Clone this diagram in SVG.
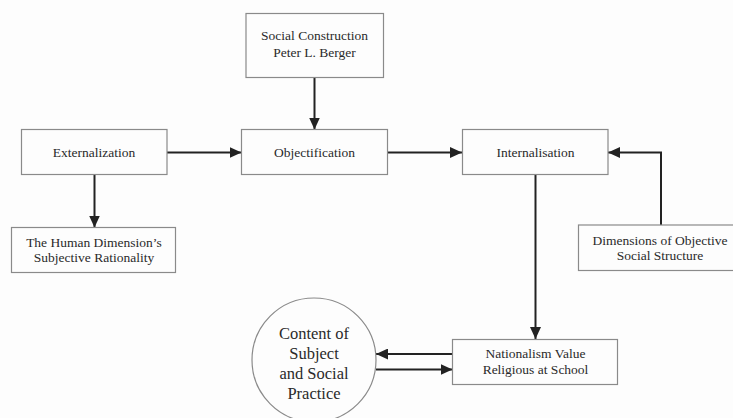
<svg xmlns="http://www.w3.org/2000/svg" width="733" height="418" viewBox="0 0 733 418">
<style>
.box{fill:#fdfdfd;stroke:#8a8a8a;stroke-width:1.2}
.c{fill:none;stroke:#222;stroke-width:2;marker-end:url(#ah)}
</style>
<defs>
<marker id="ah" markerUnits="userSpaceOnUse" markerWidth="12" markerHeight="11" refX="12" refY="5.5" orient="auto">
<path d="M0,0 L12,5.5 L0,11 z" fill="#222"/>
</marker>
</defs>
<rect width="733" height="418" fill="#fdfdfd"/>
<g id="connectors">
<line class="c" x1="314.5" y1="77" x2="314.5" y2="129.5"/>
<line class="c" x1="167" y1="152.5" x2="241.5" y2="152.5"/>
<line class="c" x1="387.5" y1="152.5" x2="462" y2="152.5"/>
<line class="c" x1="94.5" y1="174.5" x2="94.5" y2="227.5"/>
<line class="c" x1="535.5" y1="174.5" x2="535.5" y2="339"/>
<polyline class="c" points="661,225 661,152.5 608,152.5"/>
<line class="c" x1="452.5" y1="354" x2="376" y2="354"/>
<line class="c" x1="376" y1="369.5" x2="452.5" y2="369.5"/>
</g>
<g font-family="Liberation Serif, Times New Roman, serif" font-size="13.5" fill="#2a2a2a" text-anchor="middle">
<g id="social-construction">
<rect class="box" x="246" y="13.5" width="137.5" height="64"/>
<text x="314.5" y="39.5" font-family="Liberation Serif, serif">Social Construction</text>
<text x="314.5" y="56.5" font-family="Liberation Serif, serif">Peter L. Berger</text>
</g>
<g id="externalization">
<rect class="box" x="21.5" y="129.5" width="145.5" height="45"/>
<text x="94" y="157" font-family="Liberation Serif, serif">Externalization</text>
</g>
<g id="objectification">
<rect class="box" x="241.5" y="129.5" width="146" height="45"/>
<text x="314.5" y="157" font-family="Liberation Serif, serif">Objectification</text>
</g>
<g id="internalisation">
<rect class="box" x="462.5" y="129.5" width="145.5" height="45"/>
<text x="535.5" y="157" font-family="Liberation Serif, serif">Internalisation</text>
</g>
<g id="human-dimension">
<rect class="box" x="11.5" y="227.5" width="164" height="45"/>
<text x="94" y="247" font-family="Liberation Serif, serif">The Human Dimension’s</text>
<text x="94" y="262" font-family="Liberation Serif, serif">Subjective Rationality</text>
</g>
<g id="dimensions-objective">
<rect class="box" x="578.5" y="225" width="160" height="45.5"/>
<text x="660" y="244.5" font-family="Liberation Serif, serif">Dimensions of Objective</text>
<text x="660" y="260" font-family="Liberation Serif, serif">Social Structure</text>
</g>
<g id="nationalism">
<rect class="box" x="452.5" y="339.5" width="165" height="45"/>
<text x="535.5" y="357.5" font-family="Liberation Serif, serif">Nationalism Value</text>
<text x="535.5" y="373.5" font-family="Liberation Serif, serif">Religious at School</text>
</g>
<g id="content-subject" font-size="16.5">
<circle cx="314" cy="360" r="62" fill="#fdfdfd" stroke="#8a8a8a" stroke-width="1.2"/>
<text x="314" y="338.5" font-family="Liberation Serif, serif">Content of</text>
<text x="314" y="358.5" font-family="Liberation Serif, serif">Subject</text>
<text x="314" y="378.5" font-family="Liberation Serif, serif">and Social</text>
<text x="314" y="398.5" font-family="Liberation Serif, serif">Practice</text>
</g>
</g>
</svg>
